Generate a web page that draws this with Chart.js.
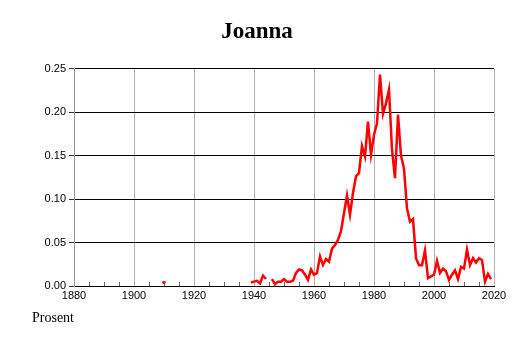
<!DOCTYPE html>
<html>
<head>
<meta charset="utf-8">
<script src="https://cdn.jsdelivr.net/npm/chart.js@4"></script>
<style>
  html, body { margin: 0; padding: 0; background: #fff; }
  #wrap { position: relative; width: 514px; height: 343px; }
  #unit {
    position: absolute; left: 32px; top: 311px;
    font: 14px "Liberation Serif", "Times New Roman", serif; line-height: 14px;
    color: #000;
  }
</style>
</head>
<body>
<div id="wrap">
  <canvas id="chart" width="514" height="343"></canvas>
  <div id="unit">Prosent</div>
</div>
<script>
// Joanna - share of newborns given the name, per year
const years = [
  1910, 1911,
  1938, 1939, 1940, 1941, 1942, 1943, 1944, 1945, 1946, 1947, 1948, 1949,
  1950, 1951, 1952, 1953, 1954, 1955, 1956, 1957, 1958, 1959,
  1960, 1961, 1962, 1963, 1964, 1965, 1966, 1967, 1968, 1969,
  1970, 1971, 1972, 1973, 1974, 1975, 1976, 1977, 1978, 1979,
  1980, 1981, 1982, 1983, 1984, 1985, 1986, 1987, 1988, 1989,
  1990, 1991, 1992, 1993, 1994, 1995, 1996, 1997, 1998, 1999,
  2000, 2001, 2002, 2003, 2004, 2005, 2006, 2007, 2008, 2009,
  2010, 2011, 2012, 2013, 2014, 2015, 2016, 2017, 2018, 2019
];
const shares = [
  0.004, null,
  null, 0.004, 0.005, 0.006, 0.003, 0.012, 0.008, null, 0.008, 0.002, 0.005, 0.005,
  0.008, 0.005, 0.005, 0.006, 0.015, 0.019, 0.018, 0.013, 0.007, 0.019,
  0.013, 0.015, 0.034, 0.024, 0.031, 0.028, 0.043, 0.047, 0.053, 0.063,
  0.084, 0.104, 0.082, 0.107, 0.126, 0.130, 0.161, 0.149, 0.189, 0.151,
  0.174, 0.187, 0.243, 0.198, 0.210, 0.226, 0.157, 0.124, 0.197, 0.150,
  0.135, 0.089, 0.074, 0.077, 0.032, 0.024, 0.024, 0.041, 0.009, 0.011,
  0.013, 0.029, 0.015, 0.020, 0.017, 0.007, 0.013, 0.018, 0.008, 0.022,
  0.020, 0.042, 0.024, 0.032, 0.027, 0.032, 0.030, 0.005, 0.014, 0.008
];
const xTicks = [1880, 1900, 1920, 1940, 1960, 1980, 2000, 2020];
const yTicks = [0, 0.05, 0.10, 0.15, 0.20, 0.25];

const points = years.map((y, i) => ({ x: y, y: shares[i] }));

// single years with no neighbours get a dot, like the 1910 value
function isolated(ctx) {
  const i = ctx.dataIndex;
  if (shares[i] == null) return false;
  const prev = i > 0 ? shares[i - 1] : null;
  const next = i < shares.length - 1 ? shares[i + 1] : null;
  return prev == null && next == null;
}

// small ticks every 5 years on the bottom axis
const minorTicks = {
  id: 'minorTicks',
  afterDatasetsDraw(chart) {
    const x = chart.scales.x;
    const ctx = chart.ctx;
    const bottom = chart.chartArea.bottom;
    ctx.save();
    ctx.strokeStyle = '#666';
    ctx.lineWidth = 1;
    for (let v = 1885; v < 2020; v += 5) {
      if (v % 20 === 0) continue;
      const px = Math.round(x.getPixelForValue(v)) + 0.5;
      ctx.beginPath();
      ctx.moveTo(px, bottom);
      ctx.lineTo(px, bottom - 4);
      ctx.stroke();
    }
    ctx.restore();
  }
};

const tickFont = { family: '"Liberation Sans", Arial, sans-serif', size: 11 };

new Chart(document.getElementById('chart'), {
  type: 'line',
  data: {
    datasets: [{
      data: points,
      borderColor: '#ff0000',
      backgroundColor: '#ff0000',
      borderWidth: 2.5,
      pointRadius: ctx => isolated(ctx) ? 1.8 : 0,
      pointBorderWidth: 0,
      spanGaps: false,
      tension: 0
    }]
  },
  options: {
    responsive: false,
    animation: false,
    devicePixelRatio: 1,
    layout: { padding: { left: 20, right: 20, top: 0, bottom: 0 } },
    plugins: {
      legend: { display: false },
      tooltip: { enabled: false },
      title: {
        display: true,
        text: 'Joanna',
        color: '#000',
        font: { family: '"Liberation Serif", "Times New Roman", serif', size: 23, weight: 'bold' },
        padding: { top: 18, bottom: 23 }
      }
    },
    scales: {
      x: {
        type: 'linear',
        min: 1880,
        max: 2020,
        afterBuildTicks: s => { s.ticks = xTicks.map(v => ({ value: v })); },
        afterFit: s => { s.height = 57; },
        grid: { color: '#b0b0b0', lineWidth: 1, drawTicks: false },
        border: { color: '#000', width: 1 },
        ticks: { color: '#000', font: tickFont, padding: 3, maxRotation: 0, autoSkip: false, callback: v => String(v) }
      },
      y: {
        min: 0,
        max: 0.25,
        afterBuildTicks: s => { s.ticks = yTicks.map(v => ({ value: v })); },
        afterFit: s => { s.width = 54; },
        grid: { color: '#000', lineWidth: 1, tickLength: 5, tickColor: '#333' },
        border: { color: '#999', width: 1 },
        ticks: { color: '#000', font: tickFont, padding: 3, callback: v => v.toFixed(2) }
      }
    }
  },
  plugins: [minorTicks]
});
</script>
</body>
</html>
